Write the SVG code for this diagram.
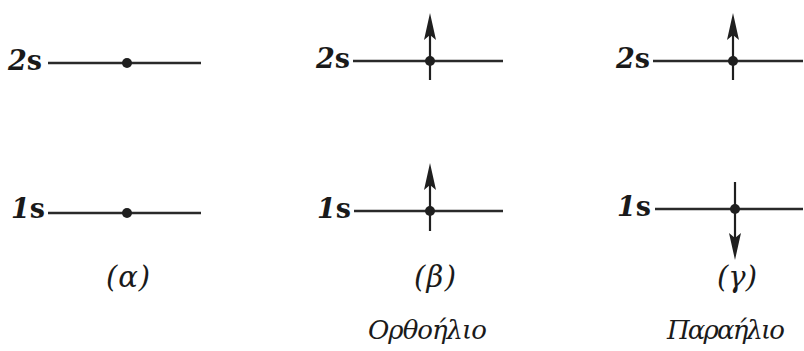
<svg xmlns="http://www.w3.org/2000/svg" width="804" height="351" viewBox="0 0 804 351">
<style>
.lvl{stroke:#2a2a2a;stroke-width:2.4;fill:none}
.sp{stroke:#1f1f1f;stroke-width:2.2;fill:none}
.dot{fill:#1f1f1f}
.head{fill:#1f1f1f}
.lab{font-family:'DejaVu Serif',serif;font-size:27px;font-weight:bold;fill:#1a1a1a}
.num{font-style:italic}
.cap{font-family:'DejaVu Serif',serif;font-style:italic;font-size:29px;fill:#1a1a1a}
.name{font-family:'DejaVu Serif',serif;font-style:italic;font-size:26px;fill:#1a1a1a}
</style>
<defs>
<path id="up" class="head" d="M0,0 L6,27 L0,22 L-6,27 Z"/>
</defs>
<g id="panel-a">
<g id="a-2s">
<text class="lab" x="42" y="70" text-anchor="end"><tspan class="num">2</tspan>s</text>
<line class="lvl" x1="48" y1="63" x2="201" y2="63"/>
<circle class="dot" cx="127" cy="63" r="5"/>
</g>
<g id="a-1s">
<text class="lab" x="45" y="218" text-anchor="end"><tspan class="num">1</tspan>s</text>
<line class="lvl" x1="48" y1="213" x2="201" y2="213"/>
<circle class="dot" cx="127" cy="213" r="5"/>
</g>
<text class="cap" x="106" y="287" textLength="44">(α)</text>
</g>
<g id="panel-b">
<g id="b-2s">
<text class="lab" x="350" y="68" text-anchor="end"><tspan class="num">2</tspan>s</text>
<line class="lvl" x1="353" y1="61" x2="503" y2="61"/>
<circle class="dot" cx="430" cy="61" r="5"/>
<line class="sp" x1="430" y1="80" x2="430" y2="32"/>
<use href="#up" x="430" y="13"/>
</g>
<g id="b-1s">
<text class="lab" x="351" y="218" text-anchor="end"><tspan class="num">1</tspan>s</text>
<line class="lvl" x1="354" y1="211" x2="503" y2="211"/>
<circle class="dot" cx="430" cy="211" r="5"/>
<line class="sp" x1="430" y1="231" x2="430" y2="182"/>
<use href="#up" x="430" y="163"/>
</g>
<text class="cap" x="414" y="287" textLength="42">(β)</text>
<text class="name" x="368" y="339" textLength="119">Ορθοήλιο</text>
</g>
<g id="panel-c">
<g id="c-2s">
<text class="lab" x="650" y="68" text-anchor="end"><tspan class="num">2</tspan>s</text>
<line class="lvl" x1="653" y1="61" x2="803" y2="61"/>
<circle class="dot" cx="733" cy="61" r="5"/>
<line class="sp" x1="733" y1="80" x2="733" y2="32"/>
<use href="#up" x="733" y="13"/>
</g>
<g id="c-1s">
<text class="lab" x="651" y="216" text-anchor="end"><tspan class="num">1</tspan>s</text>
<line class="lvl" x1="655" y1="209" x2="803" y2="209"/>
<circle class="dot" cx="735" cy="209" r="5"/>
<line class="sp" x1="735" y1="182" x2="735" y2="240"/>
<use href="#up" transform="translate(735,260) rotate(180)"/>
</g>
<text class="cap" x="717" y="287" textLength="40">(γ)</text>
<text class="name" x="667" y="339" textLength="118">Παραήλιο</text>
</g>
</svg>
